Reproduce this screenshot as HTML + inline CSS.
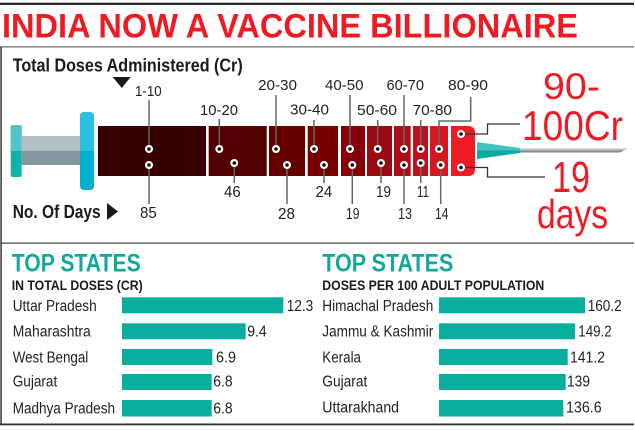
<!DOCTYPE html>
<html><head><meta charset="utf-8"><style>
html,body{margin:0;padding:0;background:#fff;}
svg{display:block;}
text{font-family:"Liberation Sans",sans-serif;}
</style></head><body>
<svg width="635" height="430" viewBox="0 0 635 430" xmlns="http://www.w3.org/2000/svg">
<rect width="635" height="430" fill="#fff"/>
<!-- frame lines -->
<rect x="0" y="2.7" width="634" height="2.2" fill="#222"/>
<rect x="0" y="46" width="634" height="1.6" fill="#8a8a8a"/>
<rect x="0.3" y="47" width="1.6" height="378" fill="#444"/>
<rect x="0" y="242.5" width="634" height="1.3" fill="#555"/>
<rect x="0" y="423.5" width="634" height="1.8" fill="#333"/>

<!-- title -->
<text x="2" y="37.7" font-size="34.5" font-weight="bold" fill="#ed1c24" textLength="576" lengthAdjust="spacingAndGlyphs">INDIA NOW A VACCINE BILLIONAIRE</text>

<text x="12.7" y="71.7" font-size="18.5" font-weight="bold" fill="#1a1a1a" textLength="230" lengthAdjust="spacingAndGlyphs">Total Doses Administered (Cr)</text>
<polygon points="112.7,77 130.7,77 121.7,88" fill="#1a1a1a"/>

<text x="12.7" y="218" font-size="18" font-weight="bold" fill="#1a1a1a" textLength="88" lengthAdjust="spacingAndGlyphs">No. Of Days</text>
<polygon points="107,203 118,211.5 107,220" fill="#1a1a1a"/>

<!-- plunger -->
<rect x="10.7" y="125" width="11" height="52" rx="2" fill="#0fb3a8"/>
<path d="M12.7,125 h7 a2,2 0 0 1 2,2 v24 h-11 v-24 a2,2 0 0 1 2,-2z" fill="#53c5cb"/>
<rect x="21.7" y="136" width="58.5" height="14.7" fill="#b3bec5"/>
<rect x="21.7" y="150.7" width="58.5" height="14.3" fill="#8797a1"/>
<rect x="80" y="112" width="14" height="78" rx="4" fill="#00b0d0"/>
<path d="M84,112 h6 a4,4 0 0 1 4,4 v35 h-14 v-35 a4,4 0 0 1 4,-4z" fill="#2bbfe0"/>

<!-- barrel segments -->
<rect x="98" y="126" width="108" height="50" fill="#360000"/>
<rect x="208.7" y="126" width="58" height="50" fill="#520000"/>
<rect x="269" y="126" width="36" height="50" fill="#640000"/>
<rect x="307.7" y="126" width="30.3" height="50" fill="#760000"/>
<rect x="341" y="126" width="24" height="50" fill="#870008"/>
<rect x="367" y="126" width="25" height="50" fill="#9b0a10"/>
<rect x="394" y="126" width="16.7" height="50" fill="#ae0e17"/>
<rect x="413" y="126" width="15" height="50" fill="#bf111d"/>
<rect x="430" y="126" width="18" height="50" fill="#d41821"/>
<path d="M451,126 h18 a6,6 0 0 1 6,6 v38 a6,6 0 0 1 -6,6 h-18z" fill="#ed1c24"/>

<!-- needle -->
<polygon points="477,142 520,148 520,150.5 477,150.5" fill="#45c2c2"/>
<polygon points="477,150.5 520,150.5 520,153 477,159" fill="#05ab9f"/>
<polygon points="520,148.5 628,148.5 624,150.5 520,150.5" fill="#b8c3c8"/>
<polygon points="520,150.5 624,150.5 620,152.5 520,152.5" fill="#7d8e97"/>

<!-- upper leader lines -->
<g stroke="#666" stroke-width="1.5" fill="none">
<line x1="149" y1="100" x2="149" y2="149"/>
<line x1="219.3" y1="119" x2="219.3" y2="149"/>
<line x1="276" y1="95" x2="276" y2="149"/>
<line x1="314" y1="120" x2="314" y2="149"/>
<line x1="350" y1="95" x2="350" y2="149"/>
<line x1="377.7" y1="120" x2="377.7" y2="149"/>
<line x1="404" y1="95" x2="404" y2="149"/>
<line x1="420.7" y1="120" x2="420.7" y2="149"/>
<polyline points="470.7,97 470.7,121 439,121 439,149"/>
<!-- lower -->
<line x1="149" y1="165" x2="149" y2="204"/>
<line x1="234.3" y1="163" x2="234.3" y2="183"/>
<line x1="287" y1="165" x2="287" y2="204"/>
<line x1="324" y1="165" x2="324" y2="183"/>
<line x1="352.3" y1="165" x2="352.3" y2="204"/>
<line x1="381" y1="163" x2="381" y2="183"/>
<line x1="404" y1="165" x2="404" y2="204"/>
<line x1="420.7" y1="163" x2="420.7" y2="183"/>
<line x1="440.7" y1="165" x2="440.7" y2="204"/>
</g>
<g stroke="#333" stroke-width="1.3" fill="none">
<polyline points="461,134 487.5,134 487.5,124 520,124"/>
<polyline points="461,167.5 487.5,167.5 487.5,177 545,177"/>
</g>

<!-- dots -->
<g fill="#fff">
<circle cx="149" cy="149" r="4"/><circle cx="149" cy="165" r="4"/>
<circle cx="219.3" cy="149" r="4"/><circle cx="234.3" cy="163" r="4"/>
<circle cx="276" cy="149" r="4"/><circle cx="287" cy="165" r="4"/>
<circle cx="314" cy="149" r="4"/><circle cx="324" cy="165" r="4"/>
<circle cx="350" cy="149" r="4"/><circle cx="352.3" cy="165" r="4"/>
<circle cx="377.7" cy="149" r="4"/><circle cx="381" cy="163" r="4"/>
<circle cx="404" cy="149" r="4"/><circle cx="404" cy="165" r="4"/>
<circle cx="420.7" cy="149" r="4"/><circle cx="420.7" cy="163" r="4"/>
<circle cx="439" cy="149" r="4"/><circle cx="440.7" cy="165" r="4"/>
<circle cx="461" cy="134" r="4"/><circle cx="461" cy="167.5" r="4"/>
</g>
<g fill="#111">
<circle cx="149" cy="149" r="1.8"/><circle cx="149" cy="165" r="1.8"/>
<circle cx="219.3" cy="149" r="1.8"/><circle cx="234.3" cy="163" r="1.8"/>
<circle cx="276" cy="149" r="1.8"/><circle cx="287" cy="165" r="1.8"/>
<circle cx="314" cy="149" r="1.8"/><circle cx="324" cy="165" r="1.8"/>
<circle cx="350" cy="149" r="1.8"/><circle cx="352.3" cy="165" r="1.8"/>
<circle cx="377.7" cy="149" r="1.8"/><circle cx="381" cy="163" r="1.8"/>
<circle cx="404" cy="149" r="1.8"/><circle cx="404" cy="165" r="1.8"/>
<circle cx="420.7" cy="149" r="1.8"/><circle cx="420.7" cy="163" r="1.8"/>
<circle cx="439" cy="149" r="1.8"/><circle cx="440.7" cy="165" r="1.8"/>
<circle cx="461" cy="134" r="1.8"/><circle cx="461" cy="167.5" r="1.8"/>
</g>

<!-- top range labels -->
<g font-size="15" fill="#222" lengthAdjust="spacingAndGlyphs">
<text x="135" y="96" textLength="26.7" lengthAdjust="spacingAndGlyphs">1-10</text>
<text x="200" y="115" textLength="38" lengthAdjust="spacingAndGlyphs">10-20</text>
<text x="258" y="90" textLength="39" lengthAdjust="spacingAndGlyphs">20-30</text>
<text x="290" y="114.5" textLength="39" lengthAdjust="spacingAndGlyphs">30-40</text>
<text x="325" y="90" textLength="38.5" lengthAdjust="spacingAndGlyphs">40-50</text>
<text x="357" y="115" textLength="40" lengthAdjust="spacingAndGlyphs">50-60</text>
<text x="386.5" y="90" textLength="37.5" lengthAdjust="spacingAndGlyphs">60-70</text>
<text x="412.5" y="115" textLength="39.5" lengthAdjust="spacingAndGlyphs">70-80</text>
<text x="448" y="90" textLength="40" lengthAdjust="spacingAndGlyphs">80-90</text>
</g>
<!-- days labels -->
<g font-size="15.5" fill="#222">
<text x="140" y="218" textLength="16.7" lengthAdjust="spacingAndGlyphs">85</text>
<text x="224" y="197" textLength="16.7" lengthAdjust="spacingAndGlyphs">46</text>
<text x="278" y="219" textLength="17" lengthAdjust="spacingAndGlyphs">28</text>
<text x="315.5" y="197" textLength="16.7" lengthAdjust="spacingAndGlyphs">24</text>
<text x="346" y="219" textLength="13.5" lengthAdjust="spacingAndGlyphs">19</text>
<text x="376" y="197" textLength="15" lengthAdjust="spacingAndGlyphs">19</text>
<text x="398" y="219" textLength="14" lengthAdjust="spacingAndGlyphs">13</text>
<text x="417" y="197" textLength="12" lengthAdjust="spacingAndGlyphs">11</text>
<text x="435" y="219" textLength="13.5" lengthAdjust="spacingAndGlyphs">14</text>
</g>

<!-- big red annotation -->
<g fill="#ed1c24" font-size="40">
<text x="543" y="99" textLength="57" lengthAdjust="spacingAndGlyphs" font-size="37">90-</text>
<text x="522" y="140" textLength="101" lengthAdjust="spacingAndGlyphs" font-size="41.5">100Cr</text>
<text x="552" y="192" textLength="38" lengthAdjust="spacingAndGlyphs" font-size="44">19</text>
<text x="537" y="228" textLength="71" lengthAdjust="spacingAndGlyphs" font-size="41">days</text>
</g>

<!-- bottom left -->
<text x="11.7" y="271.7" font-size="25" font-weight="bold" fill="#14a89a" textLength="129" lengthAdjust="spacingAndGlyphs">TOP STATES</text>
<text x="11.7" y="290" font-size="14" font-weight="bold" fill="#1a1a1a" textLength="131" lengthAdjust="spacingAndGlyphs">IN TOTAL DOSES (CR)</text>
<g fill="#0aae9e">
<rect x="122" y="297.3" width="161.3" height="16"/>
<rect x="122" y="323.3" width="123.7" height="16"/>
<rect x="122" y="349" width="90.3" height="16"/>
<rect x="122" y="374" width="89.7" height="16"/>
<rect x="122" y="400" width="89.7" height="16.5"/>
</g>
<g font-size="15.5" fill="#222">
<text x="12.7" y="311" textLength="84" lengthAdjust="spacingAndGlyphs">Uttar Pradesh</text>
<text x="12.7" y="336.7" textLength="78" lengthAdjust="spacingAndGlyphs">Maharashtra</text>
<text x="12.7" y="362.7" textLength="75.6" lengthAdjust="spacingAndGlyphs">West Bengal</text>
<text x="12.7" y="386.7" textLength="44.6" lengthAdjust="spacingAndGlyphs">Gujarat</text>
<text x="12.7" y="413.3" textLength="102.3" lengthAdjust="spacingAndGlyphs">Madhya Pradesh</text>
<text x="286.7" y="311" textLength="26.6" lengthAdjust="spacingAndGlyphs">12.3</text>
<text x="247.3" y="336.7" textLength="19.4" lengthAdjust="spacingAndGlyphs">9.4</text>
<text x="216" y="362.7" textLength="20" lengthAdjust="spacingAndGlyphs">6.9</text>
<text x="213.3" y="386.7" textLength="19.4" lengthAdjust="spacingAndGlyphs">6.8</text>
<text x="213.3" y="413.3" textLength="19.4" lengthAdjust="spacingAndGlyphs">6.8</text>
</g>

<!-- bottom right -->
<text x="322.3" y="271.7" font-size="25" font-weight="bold" fill="#14a89a" textLength="131" lengthAdjust="spacingAndGlyphs">TOP STATES</text>
<text x="322.3" y="290" font-size="14" font-weight="bold" fill="#1a1a1a" textLength="222" lengthAdjust="spacingAndGlyphs">DOSES PER 100 ADULT POPULATION</text>
<g fill="#0aae9e">
<rect x="439" y="297.3" width="146" height="16"/>
<rect x="439" y="323.3" width="136" height="16"/>
<rect x="439" y="349" width="128.7" height="16"/>
<rect x="439" y="374" width="126.7" height="16"/>
<rect x="439" y="400" width="124.3" height="16.5"/>
</g>
<g font-size="15.5" fill="#222">
<text x="322.3" y="311" textLength="111" lengthAdjust="spacingAndGlyphs">Himachal Pradesh</text>
<text x="322.3" y="336.7" textLength="111" lengthAdjust="spacingAndGlyphs">Jammu &amp; Kashmir</text>
<text x="322.3" y="362.7" textLength="38.7" lengthAdjust="spacingAndGlyphs">Kerala</text>
<text x="322.3" y="386.7" textLength="45" lengthAdjust="spacingAndGlyphs">Gujarat</text>
<text x="322.3" y="412.3" textLength="76.7" lengthAdjust="spacingAndGlyphs">Uttarakhand</text>
<text x="587.7" y="311" textLength="34" lengthAdjust="spacingAndGlyphs">160.2</text>
<text x="578.3" y="336.7" textLength="33.4" lengthAdjust="spacingAndGlyphs">149.2</text>
<text x="570" y="362.7" textLength="35" lengthAdjust="spacingAndGlyphs">141.2</text>
<text x="567" y="386.7" textLength="23" lengthAdjust="spacingAndGlyphs">139</text>
<text x="566" y="412.3" textLength="35.7" lengthAdjust="spacingAndGlyphs">136.6</text>
</g>
</svg>
</body></html>
